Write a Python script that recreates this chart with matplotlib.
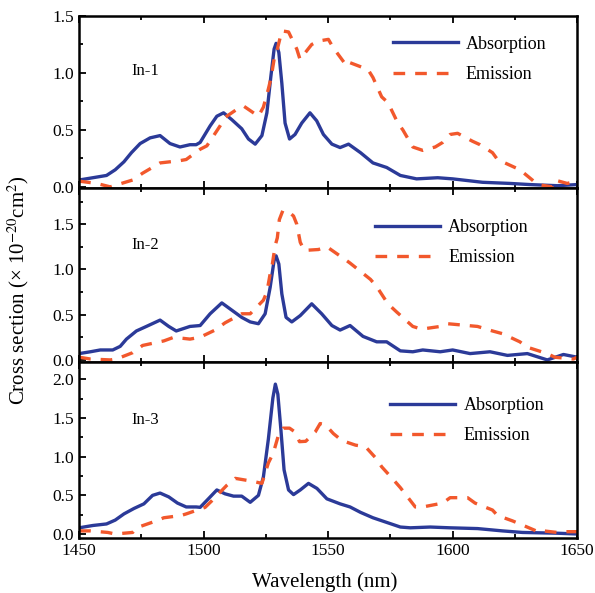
import numpy as np
import matplotlib
matplotlib.use("Agg")
import matplotlib.pyplot as plt
from matplotlib.ticker import MultipleLocator

plt.rcParams['font.family'] = ['Liberation Serif', 'DejaVu Serif']
plt.rcParams['mathtext.fontset'] = 'stix'

# In-1
wl_abs1 = [1450, 1461, 1464.5, 1468, 1471, 1474.5, 1478.5, 1482.5, 1486.5, 1490.5, 1494.5, 1497,
           1498.6, 1502.6, 1505.3, 1508, 1511.3, 1515.3, 1518, 1520.7, 1523.4, 1525.4, 1527,
           1528.3, 1529.1, 1530.2, 1531.4, 1532.7, 1534.5, 1536.7, 1539.4, 1542.7, 1545.4,
           1548.1, 1551.5, 1554.8, 1558.2, 1563, 1568, 1573.5, 1579, 1585.5, 1594, 1600, 1612,
           1623, 1631, 1642, 1650]
abs1 = [0.06, 0.10, 0.15, 0.22, 0.30, 0.38, 0.43, 0.45, 0.38, 0.35, 0.37, 0.37,
        0.39, 0.535, 0.62, 0.65, 0.59, 0.51, 0.42, 0.375, 0.45, 0.65, 0.97,
        1.21, 1.26, 1.18, 0.91, 0.56, 0.42, 0.46, 0.56, 0.65, 0.58,
        0.46, 0.375, 0.345, 0.375, 0.30, 0.21, 0.17, 0.10, 0.07, 0.08, 0.07, 0.04,
        0.03, 0.02, 0.01, 0.02]
wl_em1 = [1450, 1457, 1462.5, 1471.5, 1475.5, 1482.5, 1490.5, 1493, 1498.6, 1501.3, 1506.6, 1508.6,
          1513.3, 1516, 1522, 1524, 1526, 1527.1, 1528.3, 1529.6, 1531.4, 1534.1, 1537.4,
          1538.7, 1543.4, 1546.1, 1550.1, 1552.1, 1557.5, 1558.8, 1566, 1568, 1571.5, 1574,
          1578, 1580, 1584, 1588, 1593, 1596, 1599, 1602, 1608, 1611, 1616, 1618, 1624, 1627,
          1632, 1634, 1640, 1641, 1646, 1650]
em1 = [0.05, 0.03, 0.00, 0.06, 0.12, 0.21, 0.23, 0.24, 0.33, 0.36, 0.535, 0.61,
       0.68, 0.71, 0.62, 0.70, 0.86, 0.96, 1.12, 1.21, 1.37, 1.36, 1.21,
       1.12, 1.25, 1.28, 1.295, 1.22, 1.06, 1.09, 1.03, 0.96, 0.79, 0.74,
       0.56, 0.50, 0.35, 0.32, 0.35, 0.39, 0.46, 0.47, 0.40, 0.37, 0.30, 0.24, 0.18, 0.15,
       0.06, 0.02, 0.00, 0.06, 0.03, 0.05]

# In-2
wl_abs2 = [1450, 1454.5, 1458.5, 1463.5, 1466.5, 1469, 1473, 1477, 1482.5, 1486, 1489, 1494.5,
           1498.6, 1502.6, 1507.3, 1511.3, 1515.3, 1518.7, 1522, 1524.7, 1526.7, 1528.3, 1529.1,
           1530.2, 1531.4, 1533.1, 1535.4, 1538.8, 1543.4, 1547.4, 1551.5, 1554.8, 1558.8,
           1564, 1569.5, 1573.5, 1579, 1584, 1588, 1595, 1600, 1607, 1615, 1622, 1630, 1638,
           1644.5, 1650]
abs2 = [0.07, 0.09, 0.11, 0.11, 0.15, 0.23, 0.32, 0.37, 0.44, 0.37, 0.32, 0.37,
        0.38, 0.51, 0.63, 0.55, 0.47, 0.42, 0.40, 0.51, 0.80, 1.10, 1.15,
        1.06, 0.73, 0.47, 0.42, 0.49, 0.62, 0.51, 0.38, 0.33, 0.38,
        0.26, 0.20, 0.20, 0.10, 0.09, 0.11, 0.09, 0.11, 0.07, 0.09, 0.05, 0.07, 0.00,
        0.06, 0.03]
wl_em2 = [1450, 1454.5, 1462.5, 1465, 1471.5, 1475.5, 1484, 1488, 1494.5, 1498.5, 1504.6, 1508.6,
          1515.3, 1518.7, 1524, 1525.4, 1526.7, 1527.6, 1528.7, 1529.6, 1530.4, 1531.8, 1534,
          1536.1, 1537.4, 1538.8, 1540.4, 1546.1, 1549.5, 1556.8, 1558.8, 1567, 1569.5, 1574,
          1577.5, 1584, 1587.5, 1595, 1598, 1606, 1610, 1616, 1620, 1627, 1630, 1638, 1641,
          1648.5, 1650]
em2 = [0.03, 0.01, 0.00, 0.01, 0.08, 0.16, 0.21, 0.25, 0.23, 0.25, 0.33, 0.41,
       0.51, 0.51, 0.66, 0.75, 0.95, 1.06, 1.26, 1.35, 1.55, 1.65, 1.64,
       1.59, 1.50, 1.30, 1.21, 1.22, 1.25, 1.11, 1.07, 0.89, 0.81, 0.62,
       0.53, 0.37, 0.34, 0.37, 0.40, 0.38, 0.37, 0.32, 0.29, 0.20, 0.14, 0.07, 0.03,
       0.01, 0.03]

# In-3
wl_abs3 = [1450, 1455.5, 1461, 1464.5, 1468, 1472, 1476, 1479.5, 1482.5, 1486, 1489.5, 1493, 1497,
           1498.6, 1501.9, 1505.3, 1508.6, 1512, 1515.3, 1518.7, 1522, 1524, 1526, 1527.8,
           1528.8, 1529.8, 1531, 1532.3, 1534.1, 1536.1, 1538.8, 1542.1, 1545.5, 1549.5,
           1554.8, 1558.8, 1563, 1568, 1573.5, 1579, 1583, 1591, 1599, 1610, 1620, 1628, 1642,
           1650]
abs3 = [0.08, 0.11, 0.13, 0.18, 0.26, 0.33, 0.39, 0.50, 0.53, 0.48, 0.40, 0.35, 0.35,
        0.345, 0.455, 0.57, 0.52, 0.49, 0.49, 0.41, 0.50, 0.74, 1.23, 1.76,
        1.94, 1.81, 1.36, 0.83, 0.57, 0.51, 0.57, 0.655, 0.59, 0.455,
        0.39, 0.35, 0.28, 0.21, 0.15, 0.09, 0.08, 0.09, 0.08, 0.07, 0.04, 0.02, 0.01,
        0.00]
wl_em3 = [1450, 1454.5, 1461.5, 1464.5, 1471.5, 1473, 1481, 1484, 1491, 1493, 1500.6, 1503.3,
          1509.3, 1512.7, 1520, 1523.4, 1526, 1528, 1530, 1532, 1534.5, 1536.7, 1538.5, 1541,
          1544.8, 1546.8, 1549, 1552.1, 1555.5, 1561, 1565, 1569.5, 1571.5, 1576, 1579, 1585,
          1588, 1596, 1599, 1606, 1609, 1616, 1618, 1624, 1627, 1635, 1636.5, 1642, 1644.5,
          1650]
em3 = [0.04, 0.04, 0.02, 0.00, 0.02, 0.08, 0.17, 0.21, 0.24, 0.26, 0.345, 0.43,
       0.63, 0.72, 0.68, 0.655, 0.92, 1.05, 1.275, 1.37, 1.37, 1.32, 1.195, 1.20,
       1.32, 1.43, 1.41, 1.30, 1.21, 1.15, 1.13, 0.97, 0.87, 0.71, 0.60, 0.35,
       0.35, 0.40, 0.47, 0.47, 0.40, 0.31, 0.24, 0.17, 0.13, 0.02, 0.04, 0.02, 0.03,
       0.03]

sampleNames = ["In-1", "In-2", "In-3"]
absData = [(wl_abs1, abs1), (wl_abs2, abs2), (wl_abs3, abs3)]
emData = [(wl_em1, em1), (wl_em2, em2), (wl_em3, em3)]
yTicks = [[0.0, 0.5, 1.0, 1.5], [0.0, 0.5, 1.0, 1.5], [0.0, 0.5, 1.0, 1.5, 2.0]]
yLims = [(-0.01, 1.5), (-0.02, 1.9), (-0.05, 2.23)]
xTicks = [1450, 1500, 1550, 1600, 1650]

# layout (figure fractions)
axLeft, axWidth = 0.133, 0.837
axBoxes = [(0.683, 0.290), (0.390, 0.293), (0.093, 0.297)]
legendPos = [(0.63, 0.885), (0.594, 0.822), (0.625, 0.80)]

blue = "#2b3a98"
orange = "#f2582c"

fig = plt.figure(figsize=(5.95, 5.93), dpi=100)

for i in range(3):
    ax = fig.add_axes([axLeft, axBoxes[i][0], axWidth, axBoxes[i][1]])
    ax.plot(absData[i][0], absData[i][1], color=blue, lw=2.4, label="Absorption")
    ax.plot(emData[i][0], emData[i][1], color=orange, lw=2.4, dashes=(3.5, 3),
            label="Emission")
    ax.set_xlim(1450, 1650)
    ax.set_ylim(*yLims[i])
    ax.set_yticks(yTicks[i])
    ax.set_yticklabels(["%.1f" % v for v in yTicks[i]])
    ax.set_xticks(xTicks)
    ax.xaxis.set_minor_locator(MultipleLocator(25))
    ax.yaxis.set_minor_locator(MultipleLocator(0.25))
    ax.tick_params(which="both", direction="in", top=True, right=False, labelsize=12.5,
                   width=1.3)
    ax.tick_params(which="major", length=5)
    ax.tick_params(which="minor", length=3)
    if i < 2:
        ax.tick_params(labelbottom=False)
    for s in ax.spines.values():
        s.set_linewidth(1.8)
    ax.text(0.105, 0.68 if i == 0 else 0.67, sampleNames[i], transform=ax.transAxes,
            fontsize=12, va="center")
    ax.legend(loc="upper left", bbox_to_anchor=legendPos[i], frameon=False,
              fontsize=13, handlelength=3.6, handletextpad=0.45, labelspacing=0.75,
              borderpad=0, borderaxespad=0)

fig.text(0.03, 0.51, "Cross section (\u00d7 10$^{-20}$cm$^{2}$)", rotation=90,
         ha="center", va="center", fontsize=15)
fig.text(0.545, 0.018, "Wavelength (nm)", ha="center", va="center", fontsize=15)

fig.savefig("out.png", dpi=100)
